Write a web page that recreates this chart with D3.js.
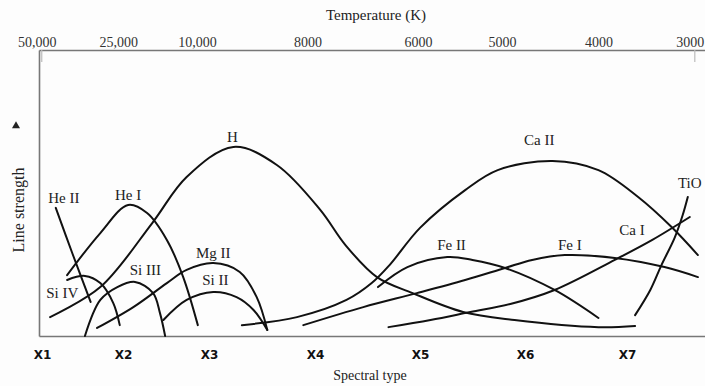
<!DOCTYPE html>
<html>
<head>
<meta charset="utf-8">
<script src="https://cdn.jsdelivr.net/npm/d3@7"></script>
<style>
  body { margin: 0; background: #fdfdfd; }
  .serif { font-family: "Liberation Serif", "DejaVu Serif", serif; fill: #222; }
</style>
</head>
<body>
<div id="chart"></div>
<script>
// spectral position (1 = X1 ... 7 = X7), line strength (0..10)
const spectralTypes = ['X1', 'X2', 'X3', 'X4', 'X5', 'X6', 'X7'];
const spectralPos = [1, 2, 3, 4, 5, 6, 7];

const tempLabels = ['50,000', '25,000', '10,000', '8000', '6000', '5000', '4000', '3000'];
const tempPos = [0.93, 1.94, 2.86, 3.93, 4.98, 5.78, 6.72, 7.62];

const heII = [[1.17, 4.48], [1.38, 2.85], [1.60, 1.19]];
const heI = [[1.31, 2.13], [1.72, 3.60], [2.06, 4.58], [2.28, 4.30], [2.51, 3.36], [2.70, 2.06], [2.87, 0.38]];
const hydrogen = [[1.10, 0.66], [1.72, 1.71], [2.34, 3.95], [2.74, 5.56], [3.23, 6.61], [3.64, 5.98], [4.05, 4.41],
  [4.29, 3.18], [4.59, 2.06], [4.93, 1.50], [5.41, 0.84], [5.90, 0.56], [6.72, 0.31], [7.08, 0.35]];
const siIV = [[1.31, 1.96], [1.53, 2.10], [1.72, 1.85], [1.88, 1.15], [1.96, 0.38]];
const siIII = [[1.53, 0.0], [1.72, 1.26], [1.93, 1.71], [2.14, 1.89], [2.35, 1.50], [2.43, 0.80], [2.49, 0.0]];
const mgII = [[1.68, 0.28], [2.12, 1.01], [2.51, 1.85], [2.74, 2.31], [3.04, 2.55], [3.29, 2.24], [3.45, 1.36], [3.55, 0.21]];
const siII = [[2.47, 0.56], [2.74, 1.26], [3.04, 1.54], [3.26, 1.36], [3.42, 0.91], [3.55, 0.21]];
const caII = [[3.31, 0.38], [3.83, 0.66], [4.30, 1.26], [4.54, 1.85], [4.71, 2.48], [5.00, 3.78], [5.43, 5.10],
  [5.74, 5.80], [6.27, 6.12], [6.72, 5.80], [7.11, 4.86], [7.44, 3.81], [7.70, 2.83]];
const feII = [[4.60, 1.71], [4.88, 2.41], [5.26, 2.76], [5.50, 2.66], [5.81, 2.38], [6.29, 1.61], [6.72, 0.63]];
const feI = [[3.89, 0.38], [4.46, 1.01], [4.97, 1.50], [5.43, 1.96], [5.81, 2.38], [6.07, 2.66], [6.39, 2.83],
  [6.88, 2.73], [7.37, 2.41], [7.70, 2.06]];
const caI = [[4.70, 0.31], [5.10, 0.56], [5.48, 0.84], [5.86, 1.12], [6.29, 1.61], [6.88, 2.66], [7.25, 3.36], [7.62, 4.16]];
const tiO = [[7.08, 0.73], [7.23, 1.61], [7.34, 2.48], [7.47, 3.43], [7.55, 4.23], [7.60, 4.86]];

const lineNames = ['He II', 'He I', 'H', 'Si IV', 'Si III', 'Mg II', 'Si II', 'Ca II', 'Fe II', 'Fe I', 'Ca I', 'TiO'];
const lineData = [heII, heI, hydrogen, siIV, siIII, mgII, siII, caII, feII, feI, caI, tiO];
const labelPos = [[1.27, 4.83], [2.06, 4.93], [3.22, 6.96], [1.25, 1.50], [2.26, 2.31], [3.04, 2.90],
  [3.06, 1.96], [6.14, 6.85], [5.30, 3.18], [6.44, 3.18], [7.05, 3.71], [7.62, 5.35]];

const w = 705;
const h = 386;

const svg = d3.select('#chart').append('svg')
  .attr('width', w)
  .attr('height', h);

// spectral classes are not evenly spaced on the page
const xScale = d3.scaleLinear()
  .domain([0.96, 1, 2, 3, 4, 5, 6, 7, 7.77])
  .range([39, 42, 123, 209, 315, 420, 525, 627, 705]);
const yScale = d3.scaleLinear()
  .domain([0, 10])
  .range([336, 50]);

const line = d3.line()
  .x(d => xScale(d[0]))
  .y(d => yScale(d[1]))
  .curve(d3.curveCatmullRom.alpha(0.5));

// axes
const xAxis = svg.append('g')
  .attr('transform', 'translate(0,' + yScale(0) + ')')
  .call(d3.axisBottom(xScale).tickValues(spectralPos).tickFormat((d, i) => spectralTypes[i])
    .tickSize(0).tickSizeOuter(0).tickPadding(14));
xAxis.selectAll('text')
  .attr('font-family', '"DejaVu Sans", sans-serif')
  .attr('font-weight', 'bold')
  .attr('font-size', 12)
  .attr('fill', '#111');

const topAxis = svg.append('g')
  .attr('transform', 'translate(0,' + yScale(10) + ')')
  .call(d3.axisTop(xScale).tickValues(tempPos).tickFormat((d, i) => tempLabels[i])
    .tickSize(0).tickSizeOuter(0).tickPadding(3));
topAxis.selectAll('text')
  .attr('font-family', '"Liberation Serif", serif')
  .attr('font-size', 14)
  .attr('fill', '#333');

// the scan has two short ticks hanging under the temperature axis
topAxis.selectAll('.hang')
  .data([tempPos[0], tempPos[tempPos.length - 1]])
  .enter().append('line')
  .attr('class', 'hang')
  .attr('x1', d => xScale(d) + 5)
  .attr('x2', d => xScale(d) + 5)
  .attr('y1', 0)
  .attr('y2', 12)
  .attr('stroke', '#bbb')
  .attr('stroke-width', 1.2);

const yAxis = svg.append('g')
  .attr('transform', 'translate(' + xScale(0.96) + ',0)')
  .call(d3.axisLeft(yScale).ticks(0).tickSizeOuter(0));

svg.selectAll('.domain')
  .attr('stroke', '#777')
  .attr('stroke-width', 1.6);

svg.append('text')
  .attr('class', 'serif')
  .attr('x', 376)
  .attr('y', 20)
  .attr('text-anchor', 'middle')
  .attr('font-size', 15)
  .text('Temperature (K)');

svg.append('text')
  .attr('class', 'serif')
  .attr('x', 370)
  .attr('y', 380)
  .attr('text-anchor', 'middle')
  .attr('font-size', 14)
  .text('Spectral type');

svg.append('text')
  .attr('class', 'serif')
  .attr('transform', 'translate(24,210) rotate(-90)')
  .attr('text-anchor', 'middle')
  .attr('font-size', 16)
  .text('Line strength');

svg.append('path')
  .attr('transform', 'translate(16,126)')
  .attr('d', d3.symbol(d3.symbolTriangle, 28))
  .attr('fill', '#222');

// absorption line curves
svg.selectAll('.chartLine')
  .data(lineData)
  .enter().append('path')
  .attr('class', 'chartLine')
  .attr('fill', 'none')
  .attr('stroke', '#111')
  .attr('stroke-width', 2)
  .attr('stroke-linecap', 'round')
  .attr('d', line);

svg.selectAll('.lineLabel')
  .data(lineNames)
  .enter().append('text')
  .attr('class', 'lineLabel serif')
  .attr('x', (d, i) => xScale(labelPos[i][0]))
  .attr('y', (d, i) => yScale(labelPos[i][1]))
  .attr('dy', '0.35em')
  .attr('text-anchor', 'middle')
  .attr('font-size', 15)
  .text(d => d);
</script>
</body>
</html>
